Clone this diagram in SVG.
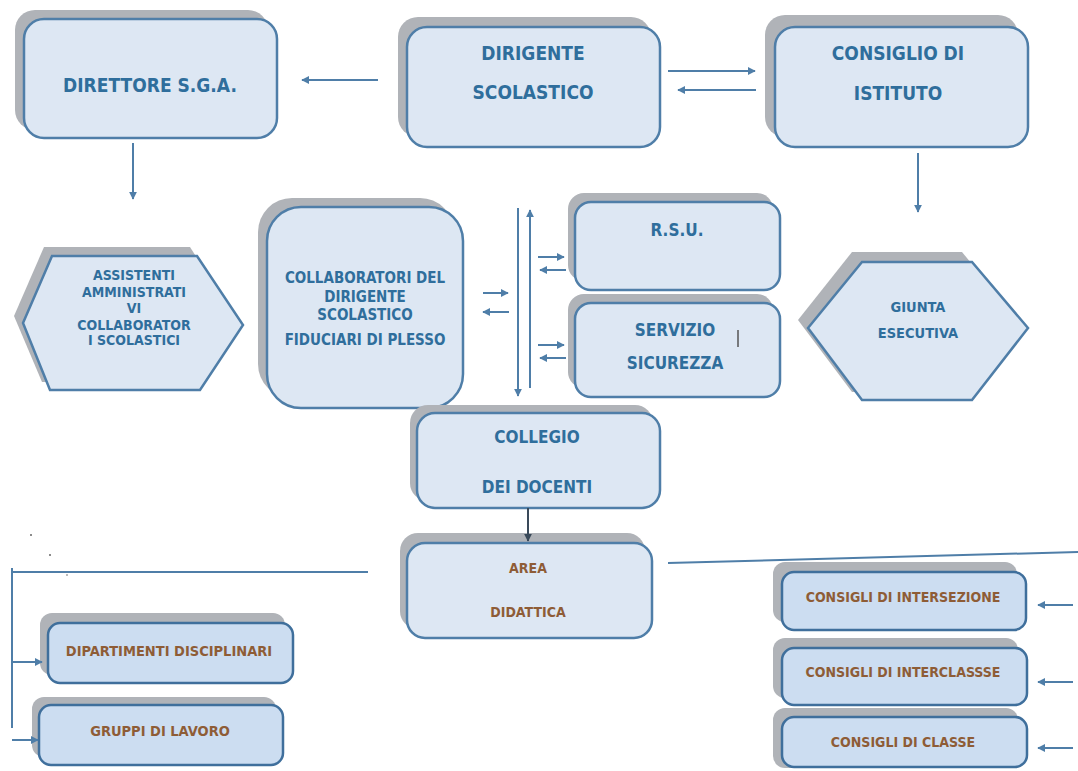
<svg xmlns="http://www.w3.org/2000/svg" width="1078" height="771" viewBox="0 0 1078 771">
<defs>
<style>
.sh{fill:#B0B3B8}
.bx{fill:#DDE7F3;stroke:#4F7EA8;stroke-width:2.5}
.bx2{fill:#CCDDF1;stroke:#3F6F9C;stroke-width:2.5}
.t{font-family:"Liberation Sans Narrow","DejaVu Sans Condensed","Liberation Sans",sans-serif;font-weight:bold;fill:#2F6E9C;text-anchor:middle}
.tb{font-family:"Liberation Sans Narrow","DejaVu Sans Condensed","Liberation Sans",sans-serif;font-weight:bold;fill:#8E5C36;text-anchor:middle}
.ln{stroke:#4F7EA8;stroke-width:2;fill:none}
.lnd{stroke:#3A4A5A;stroke-width:2;fill:none}
</style>
<marker id="ah" viewBox="0 0 10 10" refX="9" refY="5" markerWidth="4" markerHeight="4" orient="auto"><path d="M0,0L10,5L0,10z" fill="#4F7EA8"/></marker>
<marker id="ahd" viewBox="0 0 10 10" refX="9" refY="5" markerWidth="4" markerHeight="4" orient="auto"><path d="M0,0L10,5L0,10z" fill="#3A4A5A"/></marker>
</defs>
<rect width="1078" height="771" fill="#FFFFFF"/>

<g id="direttore">
<rect class="sh" x="15" y="10" width="253" height="120" rx="20"/>
<rect class="bx" x="24" y="19" width="253" height="119" rx="20"/>
<text class="t" x="150" y="92" font-size="19">DIRETTORE S.G.A.</text>
</g>

<g id="dirigente">
<rect class="sh" x="398" y="17" width="253" height="120" rx="20"/>
<rect class="bx" x="407" y="27" width="253" height="120" rx="20"/>
<text class="t" x="533" y="60" font-size="19">DIRIGENTE</text>
<text class="t" x="533" y="99" font-size="19">SCOLASTICO</text>
</g>

<g id="consiglio">
<rect class="sh" x="765" y="15" width="253" height="122" rx="20"/>
<rect class="bx" x="775" y="27" width="253" height="120" rx="20"/>
<text class="t" x="898" y="60" font-size="19">CONSIGLIO DI</text>
<text class="t" x="898" y="100" font-size="19">ISTITUTO</text>
</g>

<g id="assistenti">
<polygon class="sh" points="14,316 44,247 190,247 235,318 192,382 42,382"/>
<polygon class="bx" points="23,323 52,256 197,256 243,325 200,390 50,390"/>
<text class="t" x="134" y="280" font-size="14">ASSISTENTI</text>
<text class="t" x="134" y="297" font-size="14">AMMINISTRATI</text>
<text class="t" x="134" y="313" font-size="14">VI</text>
<text class="t" x="134" y="330" font-size="14">COLLABORATOR</text>
<text class="t" x="134" y="345" font-size="14">I SCOLASTICI</text>
</g>

<g id="collaboratori">
<rect class="sh" x="258" y="198" width="196" height="200" rx="34"/>
<rect class="bx" x="267" y="207" width="196" height="201" rx="34"/>
<text class="t" x="365" y="283" font-size="15">COLLABORATORI DEL</text>
<text class="t" x="365" y="302" font-size="15">DIRIGENTE</text>
<text class="t" x="365" y="320" font-size="15">SCOLASTICO</text>
<text class="t" x="365" y="345" font-size="15">FIDUCIARI DI PLESSO</text>
</g>

<g id="rsu">
<rect class="sh" x="568" y="193" width="205" height="88" rx="16"/>
<rect class="bx" x="575" y="202" width="205" height="88" rx="16"/>
<text class="t" x="677" y="236" font-size="17">R.S.U.</text>
</g>

<g id="servizio">
<rect class="sh" x="568" y="294" width="205" height="94" rx="16"/>
<rect class="bx" x="575" y="303" width="205" height="94" rx="16"/>
<text class="t" x="675" y="336" font-size="17">SERVIZIO</text>
<text class="t" x="675" y="369" font-size="17">SICUREZZA</text>
<line x1="738" y1="330" x2="738" y2="347" stroke="#555" stroke-width="1.5"/>
</g>

<g id="giunta">
<polygon class="sh" points="798,320 852,252 962,252 1018,320 962,392 852,392"/>
<polygon class="bx" points="808,328 862,262 972,262 1028,328 972,400 862,400"/>
<text class="t" x="918" y="312" font-size="14.5">GIUNTA</text>
<text class="t" x="918" y="338" font-size="14.5">ESECUTIVA</text>
</g>

<g id="collegio">
<rect class="sh" x="410" y="405" width="243" height="96" rx="18"/>
<rect class="bx" x="417" y="413" width="243" height="95" rx="18"/>
<text class="t" x="537" y="443" font-size="17">COLLEGIO</text>
<text class="t" x="537" y="493" font-size="17">DEI DOCENTI</text>
</g>

<g id="area">
<rect class="sh" x="400" y="533" width="245" height="96" rx="18"/>
<rect class="bx" x="407" y="543" width="245" height="95" rx="18"/>
<text class="tb" x="528" y="573" font-size="14">AREA</text>
<text class="tb" x="528" y="617" font-size="14">DIDATTICA</text>
</g>

<g id="dipartimenti">
<rect class="sh" x="40" y="613" width="245" height="62" rx="12"/>
<rect class="bx2" x="48" y="623" width="245" height="60" rx="12"/>
<text class="tb" x="169" y="656" font-size="14.5">DIPARTIMENTI DISCIPLINARI</text>
</g>

<g id="gruppi">
<rect class="sh" x="32" y="697" width="244" height="60" rx="12"/>
<rect class="bx2" x="39" y="705" width="244" height="60" rx="12"/>
<text class="tb" x="160" y="736" font-size="14.5">GRUPPI DI LAVORO</text>
</g>

<g id="intersezione">
<rect class="sh" x="773" y="562" width="244" height="60" rx="12"/>
<rect class="bx2" x="782" y="572" width="244" height="58" rx="12"/>
<text class="tb" x="903" y="602" font-size="14">CONSIGLI DI INTERSEZIONE</text>
</g>

<g id="interclasse">
<rect class="sh" x="773" y="638" width="245" height="60" rx="12"/>
<rect class="bx2" x="782" y="648" width="245" height="57" rx="12"/>
<text class="tb" x="903" y="677" font-size="14">CONSIGLI DI INTERCLASSSE</text>
</g>

<g id="classe">
<rect class="sh" x="773" y="708" width="245" height="60" rx="12"/>
<rect class="bx2" x="782" y="717" width="245" height="50" rx="12"/>
<text class="tb" x="903" y="747" font-size="14">CONSIGLI DI CLASSE</text>
</g>

<g id="connectors">
<line class="ln" x1="378" y1="80" x2="302" y2="80" marker-end="url(#ah)"/>
<line class="ln" x1="668" y1="71" x2="755" y2="71" marker-end="url(#ah)"/>
<line class="ln" x1="756" y1="90" x2="678" y2="90" marker-end="url(#ah)"/>
<line class="ln" x1="133" y1="143" x2="133" y2="199" marker-end="url(#ah)"/>
<line class="ln" x1="918" y1="153" x2="918" y2="212" marker-end="url(#ah)"/>
<line class="ln" x1="518" y1="208" x2="518" y2="396" marker-end="url(#ah)"/>
<line class="ln" x1="530" y1="388" x2="530" y2="210" marker-end="url(#ah)"/>
<line class="ln" x1="483" y1="293" x2="508" y2="293" marker-end="url(#ah)"/>
<line class="ln" x1="509" y1="312" x2="483" y2="312" marker-end="url(#ah)"/>
<line class="ln" x1="538" y1="257" x2="564" y2="257" marker-end="url(#ah)"/>
<line class="ln" x1="566" y1="270" x2="540" y2="270" marker-end="url(#ah)"/>
<line class="ln" x1="538" y1="345" x2="564" y2="345" marker-end="url(#ah)"/>
<line class="ln" x1="566" y1="358" x2="540" y2="358" marker-end="url(#ah)"/>
<line class="lnd" x1="528" y1="508" x2="528" y2="541" marker-end="url(#ahd)"/>
<line class="ln" x1="668" y1="563" x2="1078" y2="552"/>
<line class="ln" x1="12" y1="572" x2="368" y2="572"/>
<line class="ln" x1="12" y1="568" x2="12" y2="728"/>
<line class="ln" x1="12" y1="662" x2="42" y2="662" marker-end="url(#ah)"/>
<line class="ln" x1="12" y1="740" x2="38" y2="740" marker-end="url(#ah)"/>
<line class="ln" x1="1073" y1="605" x2="1038" y2="605" marker-end="url(#ah)"/>
<line class="ln" x1="1073" y1="682" x2="1038" y2="682" marker-end="url(#ah)"/>
<line class="ln" x1="1073" y1="748" x2="1038" y2="748" marker-end="url(#ah)"/>
</g>
<g id="specks" fill="#666">
<circle cx="31" cy="535" r="1"/>
<circle cx="50" cy="555" r="1"/>
<circle cx="67" cy="575" r="0.8"/>
</g>
</svg>
